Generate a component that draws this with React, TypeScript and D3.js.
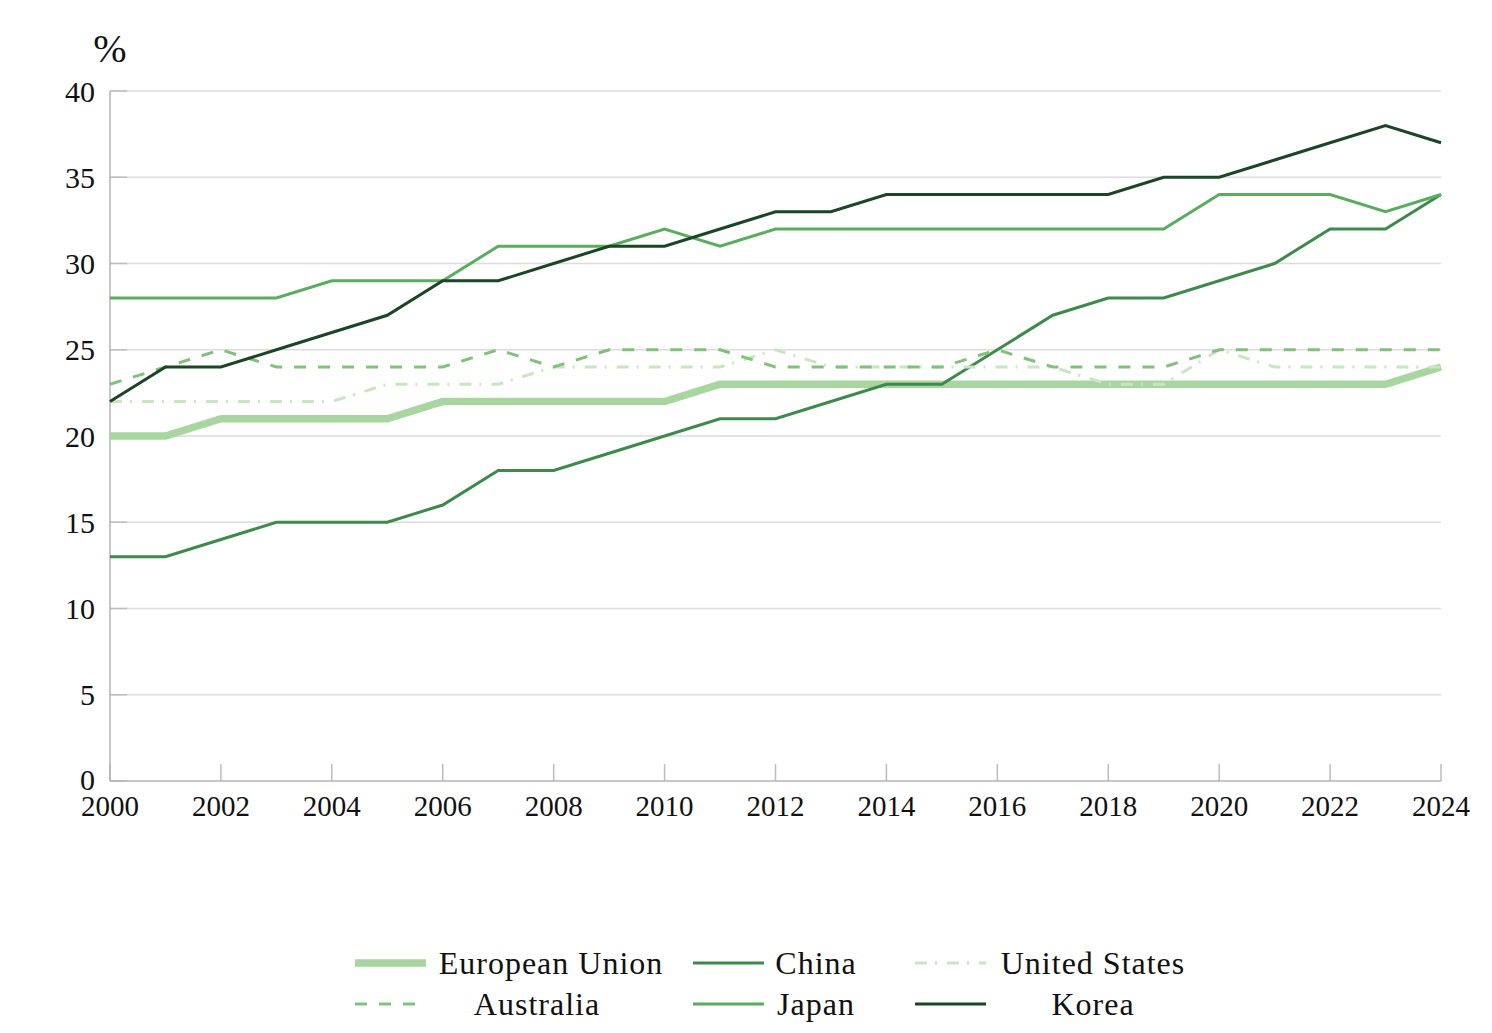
import * as React from "react"
import * as d3 from "d3"

const years = d3.range(2000, 2025)

const euValues = [20, 20, 21, 21, 21, 21, 22, 22, 22, 22, 22, 23, 23, 23, 23, 23, 23, 23, 23, 23, 23, 23, 23, 23, 24]
const chinaValues = [13, 13, 14, 15, 15, 15, 16, 18, 18, 19, 20, 21, 21, 22, 23, 23, 25, 27, 28, 28, 29, 30, 32, 32, 34]
const usValues = [22, 22, 22, 22, 22, 23, 23, 23, 24, 24, 24, 24, 25, 24, 24, 24, 24, 24, 23, 23, 25, 24, 24, 24, 24]
const australiaValues = [23, 24, 25, 24, 24, 24, 24, 25, 24, 25, 25, 25, 24, 24, 24, 24, 25, 24, 24, 24, 25, 25, 25, 25, 25]
const japanValues = [28, 28, 28, 28, 29, 29, 29, 31, 31, 31, 32, 31, 32, 32, 32, 32, 32, 32, 32, 32, 34, 34, 34, 33, 34]
const koreaValues = [22, 24, 24, 25, 26, 27, 29, 29, 30, 31, 31, 32, 33, 33, 34, 34, 34, 34, 34, 35, 35, 36, 37, 38, 37]

const yTicks = [0, 5, 10, 15, 20, 25, 30, 35, 40]
const xTicks = d3.range(2000, 2025, 2)

const FONT = "'Liberation Serif', 'Times New Roman', serif"

// styling for each series, in legend order (also drawing order)
const series = [
    { name: "European Union", values: euValues, color: "#a9d6a0", width: 7.5, dash: "" },
    { name: "China", values: chinaValues, color: "#3e8a4c", width: 3, dash: "" },
    { name: "United States", values: usValues, color: "#c8e6c0", width: 3, dash: "12 8 2 10" },
    { name: "Australia", values: australiaValues, color: "#80c27a", width: 3, dash: "12 12" },
    { name: "Japan", values: japanValues, color: "#5aac5f", width: 3, dash: "" },
    { name: "Korea", values: koreaValues, color: "#1b4524", width: 3, dash: "" },
]

// legend placement: [sample x, text center x, row y]
const legendPos = [
    [355, 551, 963],
    [693, 816, 963],
    [915, 1093, 963],
    [355, 537, 1004],
    [693, 816, 1004],
    [915, 1093, 1004],
]

export default function App() {
    const width = 1492
    const height = 1033

    const x = d3.scaleLinear().domain([2000, 2024]).range([110, 1441])
    const y = d3.scaleLinear().domain([0, 40]).range([781, 91])

    const line = (vals: number[]) =>
        d3.line<number>()
            .x((_, i) => x(years[i]))
            .y(d => y(d))(vals) || ""

    return (
        <>
            <style>{`body{margin:0;background:#fff}`}</style>
            <svg width={width} height={height} style={{ display: "block", fontFamily: FONT }}>
                {/* grid */}
                {yTicks.map(t => (
                    <g key={t}>
                        {t > 0 && (
                            <line x1={x(2000)} x2={x(2024)} y1={y(t)} y2={y(t)} stroke="#dcdcdc" strokeWidth={1.5} />
                        )}
                        <line x1={x(2000)} x2={x(2000) + 17} y1={y(t)} y2={y(t)} stroke="#bdbdbd" strokeWidth={1.5} />
                        <text x={95} y={y(t)} dy={t === 0 ? "0.3em" : "0.35em"} textAnchor="end" fontSize={30} fill="#111">{t}</text>
                    </g>
                ))}
                {xTicks.map(t => (
                    <g key={t}>
                        <line x1={x(t)} x2={x(t)} y1={y(0)} y2={y(0) - 17} stroke="#bdbdbd" strokeWidth={1.5} />
                        <text x={x(t)} y={816} textAnchor="middle" fontSize={29} fill="#111">{t}</text>
                    </g>
                ))}
                {/* axes */}
                <line x1={x(2000)} x2={x(2000)} y1={y(40)} y2={y(0)} stroke="#b5b5b5" strokeWidth={1.5} />
                <line x1={x(2000)} x2={x(2024)} y1={y(0)} y2={y(0)} stroke="#b5b5b5" strokeWidth={1.5} />
                <text x={110} y={62} textAnchor="middle" fontSize={40} fill="#111">%</text>

                {/* series */}
                {series.map(s => (
                    <path key={s.name} d={line(s.values)} fill="none" stroke={s.color}
                        strokeWidth={s.width} strokeDasharray={s.dash || undefined}
                        strokeLinejoin="miter" />
                ))}

                {/* legend */}
                {series.map((s, i) => {
                    const [sx, tx, ly] = legendPos[i]
                    return (
                        <g key={s.name}>
                            <line x1={sx} x2={sx + 71} y1={ly} y2={ly} stroke={s.color}
                                strokeWidth={s.width} strokeDasharray={s.dash || undefined} />
                            <text x={tx} y={ly} dy="0.35em" textAnchor="middle" fontSize={32}
                                letterSpacing={1} fill="#111">{s.name}</text>
                        </g>
                    )
                })}
            </svg>
        </>
    )
}
